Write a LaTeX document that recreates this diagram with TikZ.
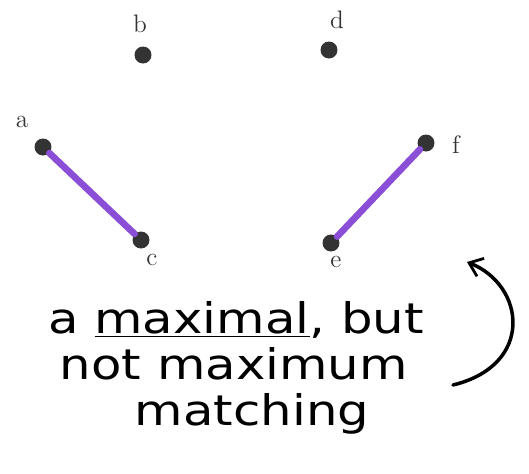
\documentclass[tikz,border=0pt]{standalone}
\usepackage{fontspec}
\usepackage{tikz}
\usetikzlibrary{arrows.meta}
\newfontfamily\handfont{DejaVu Sans}
\definecolor{dotgray}{HTML}{333333}
\definecolor{matchpurple}{HTML}{8A4FD6}
\begin{document}
\begin{tikzpicture}[x=0.02cm,y=-0.02cm,>={Straight Barb[length=7pt,width=11pt,line width=1.6pt]}]
\useasboundingbox (0,0) rectangle (529,474);
\tikzstyle{v}=[circle,fill=dotgray,inner sep=0pt,minimum size=0.34cm]
\tikzstyle{l}=[font=\Large,text=black!80]
\tikzstyle{t}=[font=\handfont\fontsize{24}{30}\selectfont,anchor=base,xscale=1.18,transform shape]
\node[v] (a) at (43,147) {}; \node[v] (b) at (143,55) {}; \node[v] (c) at (141,240) {};
\node[v] (d) at (329,50) {}; \node[v] (e) at (331,243) {}; \node[v] (f) at (426,143) {};
\node[l] at (22,122) {a}; \node[l] at (140,24) {b}; \node[l] at (152,260) {c};
\node[l] at (337,20) {d}; \node[l] at (336,262) {e}; \node[l] at (456,145) {f};
\draw[matchpurple,line width=3.8pt,line cap=round] (a) -- (c);
\draw[matchpurple,line width=3.8pt,line cap=round] (f) -- (e);
\node[t] (l1) at (236,333) {a \underline{maximal}, but};
\node[t] (l2) at (234,379) {not maximum};
\node[t] (l3) at (252,425) {matching};
\coordinate (tail) at (453,385);
\coordinate (tip) at (467,262);
\draw[->,line width=2pt,line cap=round] (tail) .. controls (535,365) and (525,285) .. (tip);
\end{tikzpicture}
\end{document}
